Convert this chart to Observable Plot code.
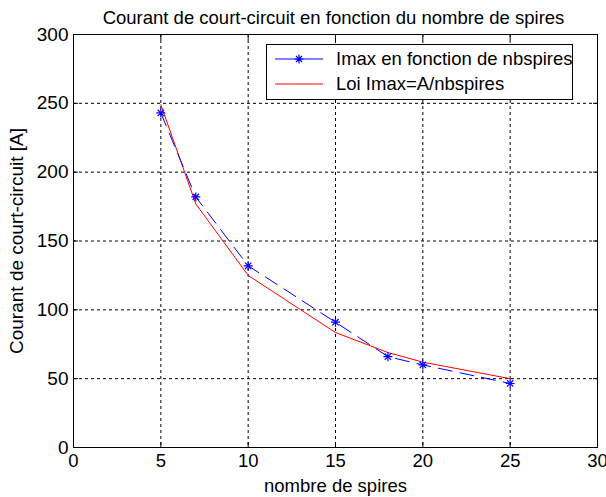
<!DOCTYPE html>
<html>
<head>
<meta charset="utf-8">
<script src="https://cdn.jsdelivr.net/npm/d3@7"></script>
<script src="https://cdn.jsdelivr.net/npm/@observablehq/plot@0.6"></script>
<style>
  html, body { margin: 0; padding: 0; background: #fff; }
  #wrap { position: relative; width: 606px; height: 497px; font-family: "Liberation Sans", Arial, sans-serif; }
  #legend { position: absolute; left: 266px; top: 44px; width: 305px; height: 54px; background: #fff; border: 1px solid #000; font-size: 18.5px; color: #000; }
  .row { position: absolute; left: 0; height: 24px; display: flex; align-items: center; white-space: nowrap; }
  .row svg { display: block; }
</style>
</head>
<body>
<div id="wrap"></div>
<script>
const title = "Courant de court-circuit en fonction du nombre de spires";
const xLabel = "nombre de spires";
const yLabel = "Courant de court-circuit [A]";
const nbspires = [5, 7, 10, 15, 18, 20, 25];
const imax = [243, 182, 132, 91, 66, 60, 46.5];
const loi = [249, 177, 125, 83.5, 69, 62, 50];
const xTicks = [0, 5, 10, 15, 20, 25, 30];
const yTicks = [0, 50, 100, 150, 200, 250, 300];
const seriesNames = ["Imax en fonction de nbspires", "Loi Imax=A/nbspires"];

const mesures = nbspires.map((n, i) => ({n, v: imax[i]}));
const modele = nbspires.map((n, i) => ({n, v: loi[i]}));

const chart = Plot.plot({
  width: 606,
  height: 497,
  marginTop: 34,
  marginLeft: 73,
  marginRight: 9,
  marginBottom: 50,
  style: {fontFamily: "'Liberation Sans', Arial, sans-serif", fontSize: "19px", color: "#000", background: "#fff", overflow: "visible"},
  x: {domain: [0, 30]},
  y: {domain: [0, 300]},
  marks: [
    Plot.gridX(xTicks, {stroke: "#000", strokeOpacity: 1, strokeDasharray: "3,3"}),
    Plot.gridY(yTicks, {stroke: "#000", strokeOpacity: 1, strokeDasharray: "3,3"}),
    Plot.axisX({ticks: xTicks, anchor: "bottom", tickSize: -5, tickFormat: () => "", label: null}),
    Plot.axisX({ticks: xTicks, anchor: "top", tickSize: -5, tickFormat: () => "", label: null}),
    Plot.axisY({ticks: yTicks, anchor: "left", tickSize: -5, tickFormat: () => "", label: null}),
    Plot.axisY({ticks: yTicks, anchor: "right", tickSize: -5, tickFormat: () => "", label: null}),
    Plot.axisX({ticks: xTicks, anchor: "bottom", tickSize: 0, tickPadding: 6, label: xLabel, labelAnchor: "center", labelArrow: "none", labelOffset: 44, fontSize: 18.5}),
    Plot.axisY({ticks: yTicks, anchor: "left", tickSize: 0, tickPadding: 5, label: yLabel, labelAnchor: "center", labelArrow: "none", labelOffset: 64}),
    Plot.frame({stroke: "#000"}),
    Plot.line(modele, {x: "n", y: "v", stroke: "red", strokeWidth: 1}),
    Plot.line(mesures, {x: "n", y: "v", stroke: "blue", strokeWidth: 1, strokeDasharray: "14,8"}),
    Plot.dot(mesures, {x: "n", y: "v", symbol: "plus", r: 3, stroke: "blue", strokeWidth: 1.2}),
    Plot.dot(mesures, {x: "n", y: "v", symbol: "times", r: 3, stroke: "blue", strokeWidth: 1.2}),
    Plot.text([title], {frameAnchor: "top", lineAnchor: "bottom", dx: -2, dy: -11, fontSize: 18.5})
  ]
});
const wrap = document.getElementById("wrap");
wrap.appendChild(chart);

const legend = document.createElement("div");
legend.id = "legend";
legend.innerHTML = `
  <div class="row" style="top:2px">
    <svg width="61" height="24" style="margin-left:8px"><line x1="0" x2="48" y1="12" y2="12" stroke="blue"/>
      <path d="M24,7.5V16.5M19.5,12H28.5M21,9L27,15M21,15L27,9" stroke="blue" stroke-width="1.2"/></svg>
    <span>${seriesNames[0]}</span></div>
  <div class="row" style="top:27px">
    <svg width="61" height="24" style="margin-left:8px"><line x1="0" x2="48" y1="12" y2="12" stroke="red"/></svg>
    <span>${seriesNames[1]}</span></div>`;
wrap.appendChild(legend);
</script>
</body>
</html>
